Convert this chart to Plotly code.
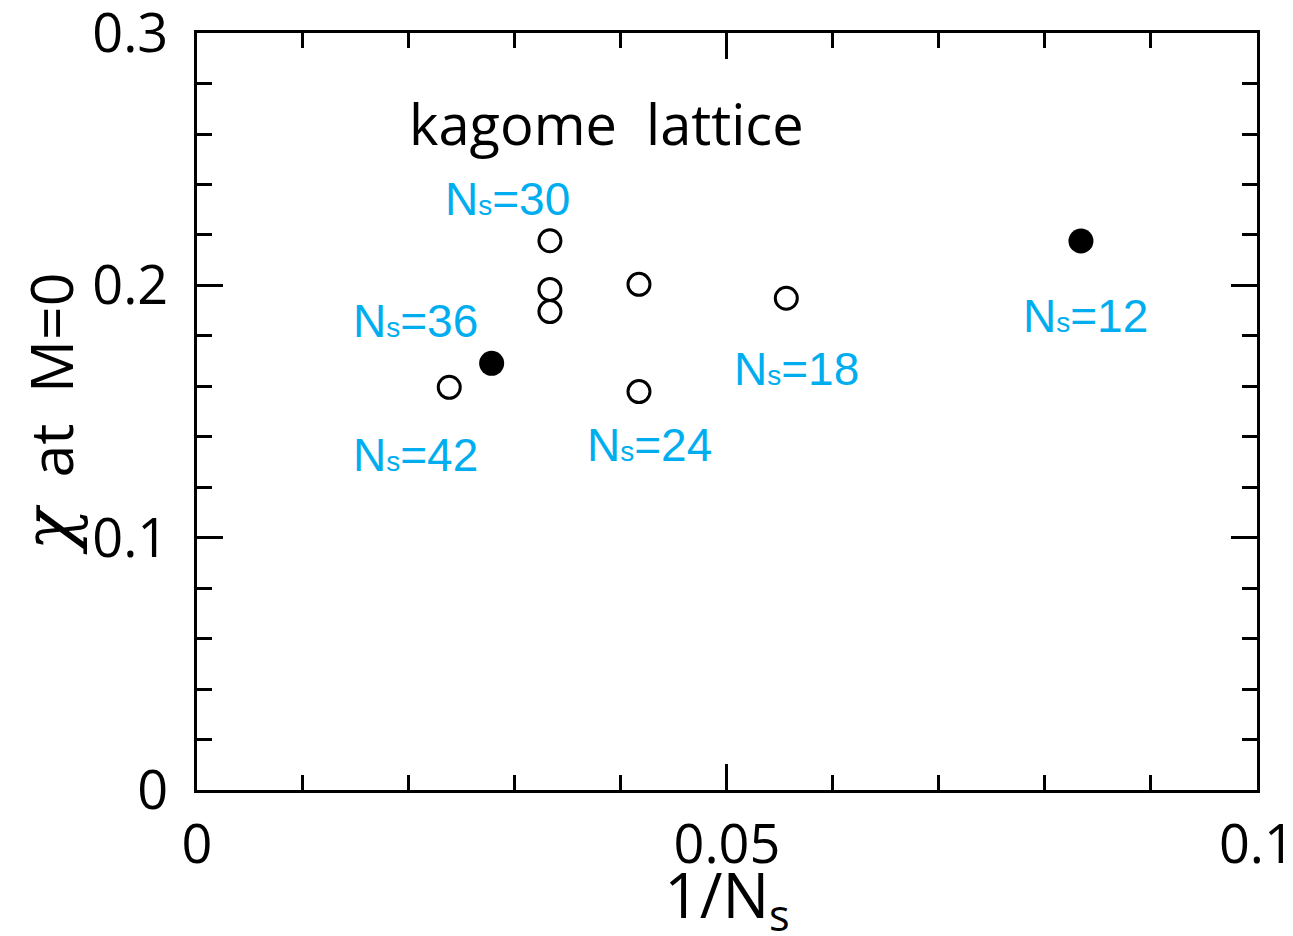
import plotly.graph_objects as go

# ---- data ----
open_x = [0.0238, 0.0333, 0.0333, 0.0333, 0.0417, 0.0417, 0.0556]
open_y = [0.1596, 0.2177, 0.1984, 0.1896, 0.2004, 0.1579, 0.1949]
filled_x = [0.0278, 0.0834]
filled_y = [0.1691, 0.2176]

label_text = ["30", "36", "42", "24", "18", "12"]
label_x = [0.0293, 0.0206, 0.0206, 0.0427, 0.0566, 0.0838]
label_y = [0.2342, 0.1859, 0.1328, 0.1367, 0.1668, 0.1879]

x_tickvals = [0, 0.05, 0.1]
x_ticktext = ["0", "0.05", "0.1"]
y_tickvals = [0, 0.1, 0.2, 0.3]
y_ticktext = ["0", "0.1", "0.2", "0.3"]

BLUE = "#00AEEF"
AXFONT = "Open Sans"

fig = go.Figure()
fig.add_trace(go.Scatter(
    x=open_x, y=open_y, mode="markers",
    marker=dict(symbol="circle-open", size=22, color="black",
                line=dict(width=3, color="black")),
    showlegend=False, hoverinfo="skip"))
fig.add_trace(go.Scatter(
    x=filled_x, y=filled_y, mode="markers",
    marker=dict(symbol="circle", size=25, color="black", line=dict(width=0)),
    showlegend=False, hoverinfo="skip"))

for t, lx, ly in zip(label_text, label_x, label_y):
    fig.add_annotation(
        x=lx, y=ly, xref="x", yref="y", showarrow=False,
        text="N<span style='font-size:28px'>s</span>=" + t,
        font=dict(family="Liberation Sans, Arial", size=46, color=BLUE),
        xanchor="center", yanchor="middle")

fig.add_annotation(
    x=0.0386, y=0.2644, xref="x", yref="y", showarrow=False,
    text="kagome  lattice",
    font=dict(family=AXFONT, size=56, color="black"),
    xanchor="center", yanchor="middle")

axis_common = dict(
    showline=True, linecolor="black", linewidth=3, mirror="ticks",
    ticks="inside", ticklen=26, tickwidth=3, tickcolor="black",
    showgrid=False, zeroline=False, ticklabeloverflow="allow",
    tickfont=dict(family=AXFONT, size=54, color="black"),
)

fig.update_xaxes(
    range=[0, 0.10001], tickvals=x_tickvals, ticktext=x_ticktext,
    minor=dict(ticks="inside", ticklen=15, tickwidth=3, tickcolor="black", dtick=0.01, showgrid=False),
    ticklabelstandoff=5,
    title=dict(text="1/N<sub>s</sub>", font=dict(family=AXFONT, size=62, color="black"), standoff=8),
    **axis_common)
fig.update_yaxes(
    range=[0, 0.30003], tickvals=y_tickvals, ticktext=y_ticktext,
    minor=dict(ticks="inside", ticklen=15, tickwidth=3, tickcolor="black", dtick=0.02, showgrid=False),
    ticklabelstandoff=15,
    title=dict(text="<span style='font-family:DejaVu Serif;font-size:70px'><i>χ</i></span>  at  M=0",
               font=dict(family=AXFONT, size=59, color="black"), standoff=30),
    **axis_common)

fig.update_layout(
    width=1293, height=936,
    margin=dict(l=189, r=44, t=25, b=154, autoexpand=False),
    paper_bgcolor="white", plot_bgcolor="white",
)

fig.write_html("out.html")
